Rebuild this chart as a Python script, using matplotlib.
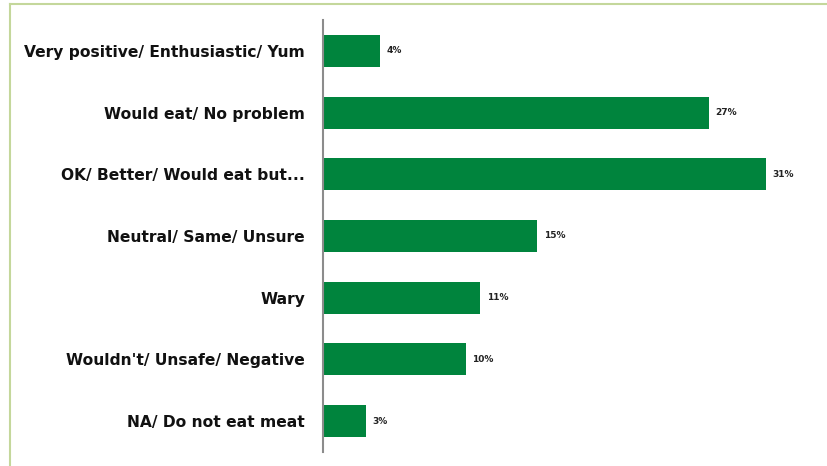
import matplotlib
matplotlib.use("Agg")
import matplotlib.pyplot as plt
from matplotlib.lines import Line2D

categories = [
    "Very positive/ Enthusiastic/ Yum",
    "Would eat/ No problem",
    "OK/ Better/ Would eat but...",
    "Neutral/ Same/ Unsure",
    "Wary",
    "Wouldn't/ Unsafe/ Negative",
    "NA/ Do not eat meat",
]
values = [4, 27, 31, 15, 11, 10, 3]
value_labels = ["4%", "27%", "31%", "15%", "11%", "10%", "3%"]

BAR_COLOR = "#00843D"
AXIS_COLOR = "#8c8c8c"
FRAME_COLOR = "#c4d79b"
FONT = "DejaVu Sans"

fig = plt.figure(figsize=(8.27, 4.66), dpi=100)
ax = fig.add_axes([323 / 827, 14 / 466, 500 / 827, 432 / 466])

y = list(range(len(categories)))
ax.barh(y, values, height=0.52, color=BAR_COLOR, zorder=2)

for yi, v, lab in zip(y, values, value_labels):
    ax.text(v + 0.45, yi, lab, va="center", ha="left", fontsize=6.5,
            fontweight="bold", family=FONT, color="#222222")

ax.set_xlim(0, 35)
ax.set_ylim(len(categories) - 0.5, -0.5)
ax.set_yticks(y)
ax.set_yticklabels(categories, fontsize=11.2, fontweight="bold", family=FONT,
                   color="#111111")
ax.tick_params(axis="y", length=0, pad=13)
ax.set_xticks([])
for side in ("top", "right", "bottom"):
    ax.spines[side].set_visible(False)
ax.spines["left"].set_color(AXIS_COLOR)
ax.spines["left"].set_linewidth(1.5)

# thin frame along the top and left edges of the slide area
fig.add_artist(Line2D([10 / 827, 1], [1 - 3.5 / 466, 1 - 3.5 / 466],
                      transform=fig.transFigure, color=FRAME_COLOR, lw=1.5))
fig.add_artist(Line2D([10 / 827, 10 / 827], [0, 1 - 3.5 / 466],
                      transform=fig.transFigure, color=FRAME_COLOR, lw=1.5))

fig.savefig("out.png", dpi=100, facecolor="white")
